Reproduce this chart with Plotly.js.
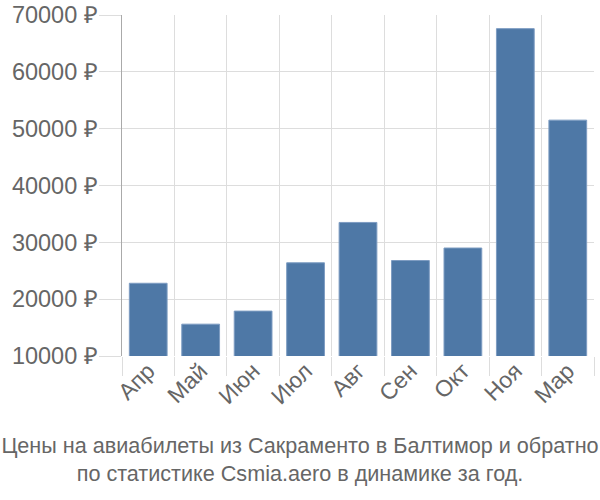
<!DOCTYPE html>
<html><head><meta charset="utf-8">
<script src="https://cdn.plot.ly/plotly-3.0.1.min.js"></script>
<style>body{margin:0}#c{width:600px;height:500px}</style>
</head><body><div id="c"></div>
<script>
const months = ["Апр","Май","Июн","Июл","Авг","Сен","Окт","Ноя","Мар"];
const prices = [22800, 15600, 17900, 26400, 33500, 26800, 29000, 67600, 51500];
const yTicks = [10000, 20000, 30000, 40000, 50000, 60000, 70000];
const yTickText = ["10000 ₽","20000 ₽","30000 ₽","40000 ₽","50000 ₽","60000 ₽","70000 ₽"];
const titleText = "Цены на авиабилеты из Сакраменто в Балтимор и обратно<br>по статистике Csmia.aero в динамике за год.";

Plotly.newPlot("c", [{
  type: "bar", x: months, y: prices,
  marker: {color: "#4e78a6", line: {color: "#7d9cc2", width: 1}},
  width: 0.72, hoverinfo: "none"
}], {
  width: 600, height: 500,
  margin: {l: 122, r: 6, t: 15, b: 144},
  paper_bgcolor: "#fff", plot_bgcolor: "#fff",
  showlegend: false,
  font: {family: "Liberation Sans, Arial, sans-serif", color: "#666"},
  title: {text: titleText, x: 0.5, xanchor: "center", xref: "container",
          y: 0.094, yref: "container", yanchor: "top",
          font: {size: 21.6, color: "#666"}},
  xaxis: {type: "category", tickson: "boundaries", ticks: "outside", ticklen: 19,
          tickcolor: "#dddddd", showgrid: true, gridcolor: "#dddddd", gridwidth: 1,
          tickangle: -45, tickfont: {size: 23, color: "#666"}, showline: false,
          zeroline: false, ticklabelstandoff: -4},
  yaxis: {range: [10000, 70000], tickvals: yTicks, ticktext: yTickText,
          ticks: "outside", ticklen: 22, tickcolor: "#dddddd",
          showgrid: true, gridcolor: "#dddddd", gridwidth: 1,
          showline: true, linecolor: "#aaaaaa", linewidth: 1.5,
          zeroline: false, tickfont: {size: 23.5, color: "#666"}, ticklabelstandoff: -4}
}, {staticPlot: true});
</script></body></html>
